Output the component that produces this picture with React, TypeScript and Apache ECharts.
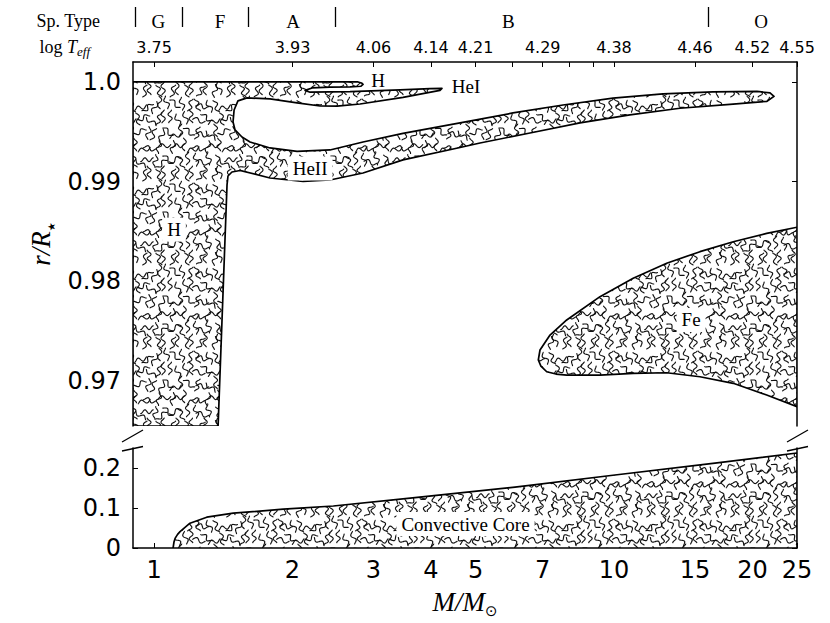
import React, { useEffect, useRef } from 'react';
import * as echarts from 'echarts';

// ---------- axes ----------
const X_MIN = 0.9;
const X_MAX = 25;
const TOP_R_MIN = 0.9655;
const TOP_R_MAX = 1.002;
const CORE_R_MIN = 0;
const CORE_R_MAX = 0.25;

const massTickValues = [1, 2, 3, 4, 5, 6, 7, 8, 9, 10, 15, 20, 25];
const massLabelValues = [1, 2, 3, 4, 5, 7, 10, 15, 20, 25];
const massLabels = ['1', '2', '3', '4', '5', '7', '10', '15', '20', '25'];
const teffLabels = ['3.75', '3.93', '4.06', '4.14', '4.21', '4.29', '4.38', '4.46', '4.52', '4.55'];
const spTypeNames = ['G', 'F', 'A', 'B', 'O'];
const spTypeCentres = [1.022, 1.392, 2.007, 5.89, 20.9];
const spTypeBounds = [0.909, 1.154, 1.603, 2.474, 16.01];
const topRTicks = [0.97, 0.98, 0.99, 1.0];
const coreRTicks = [0, 0.1, 0.2];

// ---------- convective regions (mass in Msun, r/R*) ----------
// surface H / HeI / HeII zones (one connected region)
const envMass = [0.9, 2.777, 2.825, 2.847, 2.818, 2.668, 2.413, 2.206, 2.13, 2.184, 2.668, 3.426, 3.981, 4.227, 4.185, 3.478, 2.805, 2.5, 2.296, 2.046, 1.787, 1.593, 1.522, 1.493, 1.485, 1.5, 1.553, 1.617, 1.787, 2.046, 2.413, 2.847, 3.478, 4.627, 6.032, 7.748, 9.95, 12.78, 16.41, 20.46, 21.84, 22.28, 21.51, 17.87, 13.91, 10.83, 8.436, 6.568, 5.114, 4.627, 3.478, 2.847, 2.413, 2.109, 1.787, 1.538, 1.477, 1.448, 1.441, 1.378, 0.9];
const envR = [1.0, 1.0, 0.9999, 0.99975, 0.99957, 0.9995, 0.99948, 0.9994, 0.99915, 0.99897, 0.99902, 0.9992, 0.99933, 0.99935, 0.99915, 0.99845, 0.99779, 0.99757, 0.99759, 0.9979, 0.9983, 0.9984, 0.9981, 0.99719, 0.99599, 0.99519, 0.99448, 0.99398, 0.99338, 0.99303, 0.99318, 0.99398, 0.99485, 0.99589, 0.99689, 0.99769, 0.99837, 0.9988, 0.999, 0.99905, 0.9989, 0.99855, 0.99806, 0.99776, 0.99736, 0.99669, 0.99589, 0.99488, 0.99388, 0.99343, 0.99218, 0.99087, 0.99017, 0.99002, 0.99037, 0.99112, 0.99097, 0.99057, 0.98967, 0.9655, 0.9655];

// iron opacity bump zone
const feMass = [25, 21.48, 18.17, 15.38, 13.02, 11.01, 9.324, 7.893, 7.26, 6.905, 6.847, 6.937, 7.141, 7.478, 7.893, 9.324, 11.01, 13.02, 15.38, 18.17, 21.48, 25];
const feR = [0.98543, 0.98482, 0.98398, 0.98298, 0.98182, 0.98031, 0.97847, 0.97613, 0.97462, 0.97312, 0.97212, 0.97151, 0.97094, 0.97071, 0.97061, 0.97061, 0.97078, 0.97084, 0.97044, 0.96978, 0.96861, 0.96743];

// convective core
const coreMass = [1.1, 1.105, 1.111, 1.125, 1.139, 1.197, 1.302, 1.487, 1.91, 2.454, 3.693, 6.093, 10.05, 16.58, 25, 25];
const coreR = [0, 0.015, 0.024, 0.034, 0.041, 0.062, 0.077, 0.087, 0.097, 0.105, 0.126, 0.152, 0.1825, 0.212, 0.2375, 0];

// ---------- in-plot labels ----------
const topLabelText = ['H', 'H', 'HeI', 'HeII', 'Fe'];
const topLabelMass = [1.105, 3.069, 4.768, 2.184, 14.71];
const topLabelR = [0.98519, 1.0001, 0.9995, 0.99132, 0.97613];
const topLabelBoxed = [true, false, false, true, true];
const coreLabelText = ['Convective Core'];
const coreLabelMass = [4.756];
const coreLabelR = [0.06];

const SERIF = '"Liberation Serif", "Times New Roman", serif';
const SANS = '"DejaVu Sans", sans-serif';

// decorative squiggle texture used to mark convective regions
const squiggleAngles = [90, 70, 110, 60, 120, 85, 0, 100, 75, 30, 95, 150, 80, 105, 170, 65, 45, 115, 20, 135];

function makeSquiggleTile(): { url: string; size: number } {
  const size = 84;
  const c = document.createElement('canvas');
  c.width = size;
  c.height = size;
  const ctx = c.getContext('2d') as CanvasRenderingContext2D;
  ctx.fillStyle = '#fff';
  ctx.fillRect(0, 0, size, size);
  ctx.strokeStyle = '#111';
  ctx.lineWidth = 1.15;
  ctx.lineCap = 'round';
  ctx.lineJoin = 'round';
  const cols = 12;
  const rows = 6;
  const dx = size / cols;
  const dy = size / rows;
  const L = 12.5;
  const A = 1.9;
  for (let r = 0; r < rows; r++) {
    for (let q = 0; q < cols; q++) {
      const h = (r * 29 + q * 53 + r * q * 13 + 7) % 101;
      const ang = (squiggleAngles[h % squiggleAngles.length] * Math.PI) / 180;
      const jx = (((h * 7) % 5) - 2) * 0.7;
      const jy = (((h * 11) % 5) - 2) * 1.3;
      const cx = (q + 0.5) * dx + (r % 2) * dx * 0.5 + jx;
      const cy = (r + 0.5) * dy + jy;
      const phase = (h % 2) * Math.PI;
      const periods = 1.2 + (h % 3) * 0.15;
      const ca = Math.cos(ang);
      const sa = Math.sin(ang);
      for (let ox = -size; ox <= size; ox += size) {
        for (let oy = -size; oy <= size; oy += size) {
          ctx.beginPath();
          for (let k = 0; k <= 28; k++) {
            const t = k / 28 - 0.5;
            const a = t * L;
            const p = A * Math.sin(2 * Math.PI * periods * t + phase);
            const x = cx + ox + a * ca - p * sa;
            const y = cy + oy + a * sa + p * ca;
            if (k === 0) ctx.moveTo(x, y);
            else ctx.lineTo(x, y);
          }
          ctx.stroke();
        }
      }
    }
  }
  return { url: c.toDataURL(), size };
}

function nearestIndex(vals: number[], v: number): number {
  let bi = 0;
  let bd = Infinity;
  vals.forEach((x, i) => {
    const d = Math.abs(Math.log(x) - Math.log(v));
    if (d < bd) {
      bd = d;
      bi = i;
    }
  });
  return bi;
}

export default function App() {
  const ref = useRef<HTMLDivElement>(null);

  useEffect(() => {
    const el = ref.current;
    if (!el) return;
    const chart = echarts.init(el, null, { renderer: 'svg' });
    const tile = makeSquiggleTile();
    const pattern: any = {
      image: tile.url,
      repeat: 'repeat',
      imageWidth: tile.size,
      imageHeight: tile.size,
    };

    const regionSeries = (masses: number[], rs: number[], xi: number, yi: number) => ({
      type: 'custom',
      xAxisIndex: xi,
      yAxisIndex: yi,
      clip: true,
      silent: true,
      data: masses.map((m, i) => [m, rs[i]]),
      encode: { x: 0, y: 1 },
      renderItem: (params: any, api: any) => {
        if (params.dataIndex !== 0) return null;
        const pts = masses.map((m, i) => api.coord([m, rs[i]]));
        return {
          type: 'polygon',
          shape: { points: pts },
          style: { fill: pattern, stroke: '#000', lineWidth: 1.7, lineJoin: 'round' },
        };
      },
    });

    const labelSeries = (
      texts: string[],
      masses: number[],
      rs: number[],
      boxed: boolean[],
      xi: number,
      yi: number
    ) => ({
      type: 'custom',
      xAxisIndex: xi,
      yAxisIndex: yi,
      clip: false,
      silent: true,
      z: 5,
      data: masses.map((m, i) => [m, rs[i]]),
      encode: { x: 0, y: 1 },
      renderItem: (params: any, api: any) => {
        const i = params.dataIndex;
        const p = api.coord([api.value(0), api.value(1)]);
        return {
          type: 'text',
          x: p[0],
          y: p[1],
          style: {
            text: texts[i],
            font: `19px ${SERIF}`,
            fill: '#000',
            align: 'center',
            verticalAlign: 'middle',
            backgroundColor: boxed[i] ? '#fff' : 'transparent',
            padding: [3, 5, 2, 5],
          },
        };
      },
    });

    const spine = { show: true, onZero: false, lineStyle: { color: '#000', width: 1.5 } };
    const tickIn = { show: true, inside: true, length: 5, lineStyle: { color: '#000', width: 1 } };

    const option: any = {
      animation: false,
      backgroundColor: '#fff',
      textStyle: { fontFamily: SANS },
      grid: [
        { left: 133, top: 62, width: 664, height: 364, containLabel: false, outerBoundsMode: 'none' },
        { left: 133, top: 448, width: 664, height: 100, containLabel: false, outerBoundsMode: 'none' },
      ],
      xAxis: [
        {
          type: 'log',
          logBase: 10,
          gridIndex: 0,
          position: 'top',
          min: X_MIN,
          max: X_MAX,
          axisLine: spine,
          axisTick: { ...tickIn, customValues: massTickValues },
          minorTick: { show: false },
          splitLine: { show: false },
          axisLabel: {
            customValues: massLabelValues,
            formatter: (v: number) => teffLabels[nearestIndex(massLabelValues, v)],
            fontFamily: SANS,
            fontSize: 16,
            color: '#000',
            margin: 7,
          },
        },
        {
          type: 'log',
          logBase: 10,
          gridIndex: 1,
          position: 'bottom',
          min: X_MIN,
          max: X_MAX,
          axisLine: spine,
          axisTick: { ...tickIn, customValues: massTickValues },
          minorTick: { show: false },
          splitLine: { show: false },
          axisLabel: {
            customValues: massLabelValues,
            formatter: (v: number) => massLabels[nearestIndex(massLabelValues, v)],
            fontFamily: SANS,
            fontSize: 24,
            color: '#000',
            margin: 10,
          },
          name: '{i|M/M}{s|⊙}',
          nameLocation: 'middle',
          nameGap: 38,
          nameTextStyle: {
            rich: {
              i: { fontFamily: SERIF, fontStyle: 'italic', fontSize: 27, lineHeight: 32, color: '#000' },
              s: { fontFamily: SANS, fontSize: 15, lineHeight: 13, verticalAlign: 'bottom', color: '#000' },
            },
          },
        },
        {
          // spectral-type row: boundaries as ticks, class letters as labels
          type: 'log',
          logBase: 10,
          gridIndex: 0,
          position: 'top',
          offset: 35,
          min: X_MIN,
          max: X_MAX,
          axisLine: { show: false },
          axisTick: {
            show: true,
            inside: false,
            length: 20,
            customValues: spTypeBounds,
            lineStyle: { color: '#000', width: 1.3 },
          },
          minorTick: { show: false },
          splitLine: { show: false },
          axisLabel: {
            customValues: spTypeCentres,
            formatter: (v: number) => spTypeNames[nearestIndex(spTypeCentres, v)],
            fontFamily: SERIF,
            fontSize: 19,
            color: '#000',
            margin: -4,
          },
        },
      ],
      yAxis: [
        {
          type: 'value',
          gridIndex: 0,
          position: 'left',
          min: TOP_R_MIN,
          max: TOP_R_MAX,
          axisLine: spine,
          axisTick: { ...tickIn, customValues: topRTicks },
          splitLine: { show: false },
          axisLabel: {
            customValues: topRTicks,
            formatter: (v: number) => (Math.abs(v - 1) < 1e-9 ? '1.0' : v.toFixed(2)),
            fontFamily: SANS,
            fontSize: 24,
            color: '#000',
            margin: 12,
          },
          name: '{i|r/R}{s|★}',
          nameLocation: 'middle',
          nameGap: 76,
          nameRotate: 90,
          nameTextStyle: {
            rich: {
              i: { fontFamily: SERIF, fontStyle: 'italic', fontSize: 27, lineHeight: 32, color: '#000' },
              s: { fontFamily: SANS, fontSize: 10, lineHeight: 12, verticalAlign: 'bottom', color: '#000' },
            },
          },
        },
        {
          type: 'value',
          gridIndex: 0,
          position: 'right',
          min: TOP_R_MIN,
          max: TOP_R_MAX,
          axisLine: spine,
          axisTick: { ...tickIn, customValues: topRTicks },
          splitLine: { show: false },
          axisLabel: { show: false },
        },
        {
          type: 'value',
          gridIndex: 1,
          position: 'left',
          min: CORE_R_MIN,
          max: CORE_R_MAX,
          axisLine: spine,
          axisTick: { ...tickIn, customValues: coreRTicks },
          splitLine: { show: false },
          axisLabel: {
            customValues: coreRTicks,
            formatter: (v: number) => (v === 0 ? '0' : v.toFixed(1)),
            fontFamily: SANS,
            fontSize: 24,
            color: '#000',
            margin: 12,
          },
        },
        {
          type: 'value',
          gridIndex: 1,
          position: 'right',
          min: CORE_R_MIN,
          max: CORE_R_MAX,
          axisLine: spine,
          axisTick: { ...tickIn, customValues: coreRTicks },
          splitLine: { show: false },
          axisLabel: { show: false },
        },
      ],
      series: [
        regionSeries(envMass, envR, 0, 0),
        regionSeries(feMass, feR, 0, 0),
        regionSeries(coreMass, coreR, 1, 2),
        labelSeries(topLabelText, topLabelMass, topLabelR, topLabelBoxed, 0, 0),
        labelSeries(coreLabelText, coreLabelMass, coreLabelR, [true], 1, 2),
      ],
      graphic: [
        {
          type: 'text',
          x: 100,
          y: 21,
          style: {
            text: 'Sp. Type',
            font: `18px ${SERIF}`,
            fill: '#000',
            align: 'right',
            verticalAlign: 'middle',
          },
        },
        {
          type: 'text',
          x: 90,
          y: 47,
          style: {
            text: '{r|log }{i|T}{s|eff}',
            fill: '#000',
            align: 'right',
            verticalAlign: 'middle',
            rich: {
              r: { fontFamily: SERIF, fontSize: 18, lineHeight: 22, fill: '#000' },
              i: { fontFamily: SERIF, fontStyle: 'italic', fontSize: 18, lineHeight: 22, fill: '#000' },
              s: { fontFamily: SERIF, fontStyle: 'italic', fontSize: 13, lineHeight: 13, verticalAlign: 'bottom', fill: '#000' },
            },
          },
        },
        { type: 'line', shape: { x1: 122, y1: 442, x2: 143, y2: 430 }, style: { stroke: '#000', lineWidth: 1.3 } },
        { type: 'line', shape: { x1: 122, y1: 451, x2: 143, y2: 446.5 }, style: { stroke: '#000', lineWidth: 1.3 } },
        { type: 'line', shape: { x1: 787, y1: 442, x2: 808, y2: 430 }, style: { stroke: '#000', lineWidth: 1.3 } },
        { type: 'line', shape: { x1: 787, y1: 451, x2: 808, y2: 446.5 }, style: { stroke: '#000', lineWidth: 1.3 } },
      ],
    };

    chart.setOption(option);
    return () => {
      chart.dispose();
    };
  }, []);

  return (
    <div
      ref={ref}
      style={{ position: 'fixed', left: 0, top: 0, width: 830, height: 623, background: '#fff' }}
    />
  );
}
